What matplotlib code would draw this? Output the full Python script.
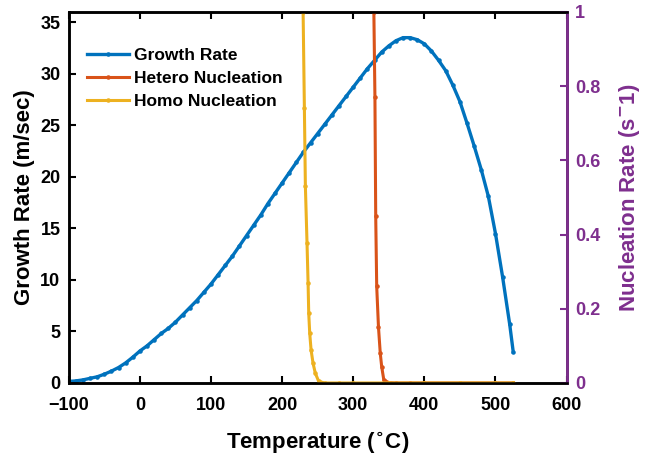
import matplotlib.pyplot as plt

plt.rcParams['font.family'] = ['Liberation Sans', 'DejaVu Sans']
plt.rcParams['font.weight'] = 'bold'

# growth rate (m/sec) vs temperature
temp_growth = [-100, -90, -80, -70, -60, -50, -40, -30, -20, -10,
               0, 10, 20, 30, 40, 50, 60, 70, 80, 90,
               100, 110, 120, 130, 140, 150, 160, 170, 180, 190,
               200, 210, 220, 230, 240, 250, 260, 270, 280, 290,
               300, 310, 320, 330, 340, 350, 360, 370, 380, 390,
               400, 410, 420, 430, 440, 450, 460, 470, 480, 490,
               500, 510, 520, 525]
growth = [0.15, 0.2, 0.3, 0.45, 0.6, 0.85, 1.15, 1.5, 1.95, 2.5,
          3.1, 3.6, 4.2, 4.8, 5.3, 5.9, 6.6, 7.3, 8.0, 8.8,
          9.6, 10.5, 11.4, 12.3, 13.3, 14.3, 15.3, 16.3, 17.4, 18.4,
          19.4, 20.4, 21.4, 22.4, 23.3, 24.2, 25.1, 26.0, 26.9, 27.8,
          28.7, 29.6, 30.5, 31.3, 32.1, 32.7, 33.2, 33.5, 33.5, 33.3,
          32.9, 32.2, 31.3, 30.3, 28.9, 27.3, 25.2, 23.0, 20.7, 18.1,
          14.5, 10.3, 5.7, 3.0]

# nucleation rates (1/s)
temp_hetero = [315, 322, 327, 329, 330.5, 331.6, 333, 335.5, 338, 340,
               343, 350, 360, 380, 400, 450, 500, 525]
hetero = [40, 6, 1.8, 1.0, 0.77, 0.45, 0.26, 0.15, 0.08, 0.044,
          0.008, 0.001, 0, 0, 0, 0, 0, 0]

temp_homo = [215, 224, 229.5, 231.3, 232.7, 235, 236.5, 237.4, 238.8, 240.7,
             243.5, 246.7, 251.5, 260, 280, 300, 350, 400, 450, 500, 525]
homo = [40, 4, 1.0, 0.74, 0.53, 0.377, 0.269, 0.188, 0.134, 0.089,
        0.053, 0.026, 0.004, 0, 0, 0, 0, 0, 0, 0, 0]

blue = '#0072BD'
red = '#D95319'
yellow = '#EDB120'
purple = '#7E2F8E'

fig = plt.figure(figsize=(6.49, 4.57), dpi=100)
ax = fig.add_axes([0.106, 0.162, 0.767, 0.812])
ax2 = ax.twinx()

l1, = ax.plot(temp_growth, growth, '.-', color=blue, lw=2.4, ms=4.5, label='Growth Rate')
l2, = ax2.plot(temp_hetero, hetero, '.-', color=red, lw=2.2, ms=4.5, label='Hetero Nucleation')
l3, = ax2.plot(temp_homo, homo, '.-', color=yellow, lw=2.2, ms=4.5, label='Homo Nucleation')

ax.set_xlim(-100, 600)
ax.set_ylim(0, 36)
ax2.set_ylim(0, 1)
ax.set_xticks(range(-100, 601, 100))
ax.set_yticks(range(0, 36, 5))
ax2.set_yticks([0, 0.2, 0.4, 0.6, 0.8, 1])
ax2.set_yticklabels(['0', '0.2', '0.4', '0.6', '0.8', '1'])

ax.tick_params(axis='both', direction='in', labelsize=13, width=1.5, length=5, top=True)
ax.tick_params(axis='x', pad=10)
ax.tick_params(axis='y', pad=6)
ax2.tick_params(axis='y', direction='in', labelsize=13, width=1.5, length=5,
                colors=purple, pad=6)
for s in ax.spines.values():
    s.set_linewidth(1.8)
for s in ax2.spines.values():
    s.set_linewidth(1.8)
ax2.spines['right'].set_color(purple)
ax2.spines['right'].set_linewidth(2)

ax.set_xlabel('Temperature ($^{\\circ}$C)', fontsize=16, fontweight='bold', labelpad=12)
ax.set_ylabel('Growth Rate (m/sec)', fontsize=16, fontweight='bold', labelpad=4)
ax2.set_ylabel('Nucleation Rate (s$^{-}$1)', fontsize=16, fontweight='bold',
               color=purple, labelpad=12)

ax2.legend(handles=[l1, l2, l3], loc='upper left', frameon=False, fontsize=12.5,
           handlelength=2.4, handletextpad=0.3, labelspacing=0.45,
           bbox_to_anchor=(0.005, 0.945))

fig.savefig('out.png', dpi=100)
